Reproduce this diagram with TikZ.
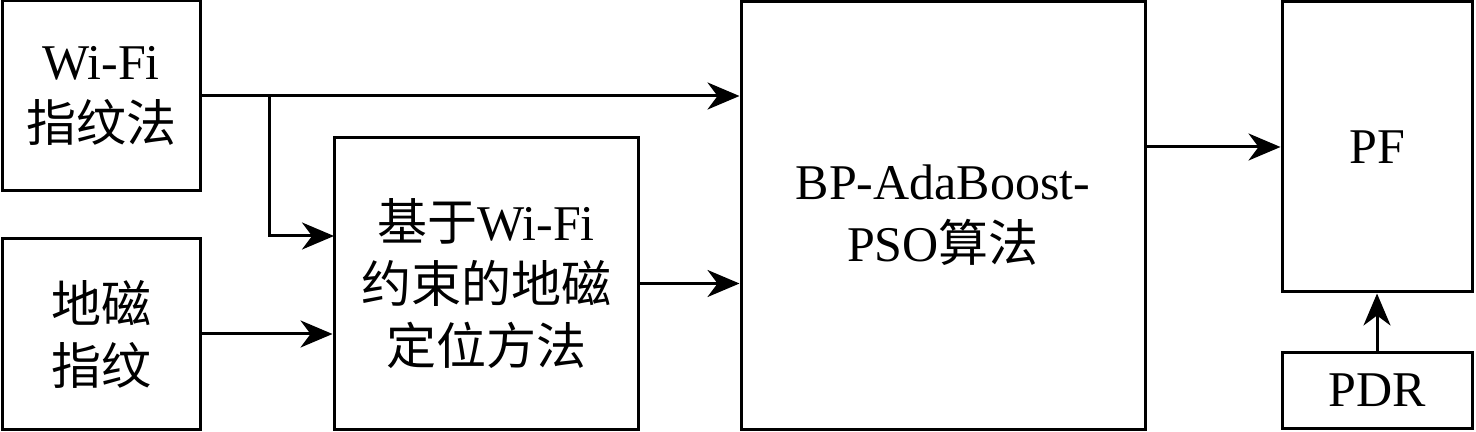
\documentclass[tikz,border=0pt]{standalone}
\usepackage{fontspec}
\setmainfont{Liberation Serif}
\newfontfamily\cjk{Noto Sans CJK SC}
\usetikzlibrary{arrows.meta}
\begin{document}
\begin{tikzpicture}[x=0.5pt,y=-0.5pt,
  blk/.style={draw, line width=1.5pt, inner sep=0pt, align=center,
    font=\fontsize{25}{31}\selectfont},
  arr/.style={line width=1.5pt, -{Stealth[length=16pt,width=13.5pt,inset=5pt]}}]
\useasboundingbox (0,0) rectangle (1476,432);
\node[blk, minimum width=99pt, minimum height=95pt] (A) at (101,96) {Wi-Fi\\\cjk 指纹法};
\node[blk, minimum width=99pt, minimum height=95pt] (B) at (101,334) {\cjk 地磁\\\cjk 指纹};
\node[blk, minimum width=152pt, minimum height=145.5pt] (C) at (486,283.5) {{\cjk 基于}Wi-Fi\\\cjk 约束的地磁\\\cjk 定位方法};
\node[blk, minimum width=202pt, minimum height=213.5pt] (D) at (943,215.5) {BP-AdaBoost-\\PSO{\cjk 算法}};
\node[blk, minimum width=95pt, minimum height=145pt] (E) at (1377,147) {PF};
\node[blk, minimum width=95pt, minimum height=37.5pt] (F) at (1377,390.5) {PDR};
\coordinate (br) at (269,96);
\coordinate (c1) at (334,236);
\draw[arr] (A.east) -- (A.east -| D.west);
\draw[arr] (br) |- (c1);
\draw[arr] (B.east) -- (B.east -| C.west);
\draw[arr] (C.east) -- (C.east -| D.west);
\draw[arr] (D.east |- E.west) -- (E.west);
\draw[arr] (F.north) -- (E.south);
\end{tikzpicture}
\end{document}
